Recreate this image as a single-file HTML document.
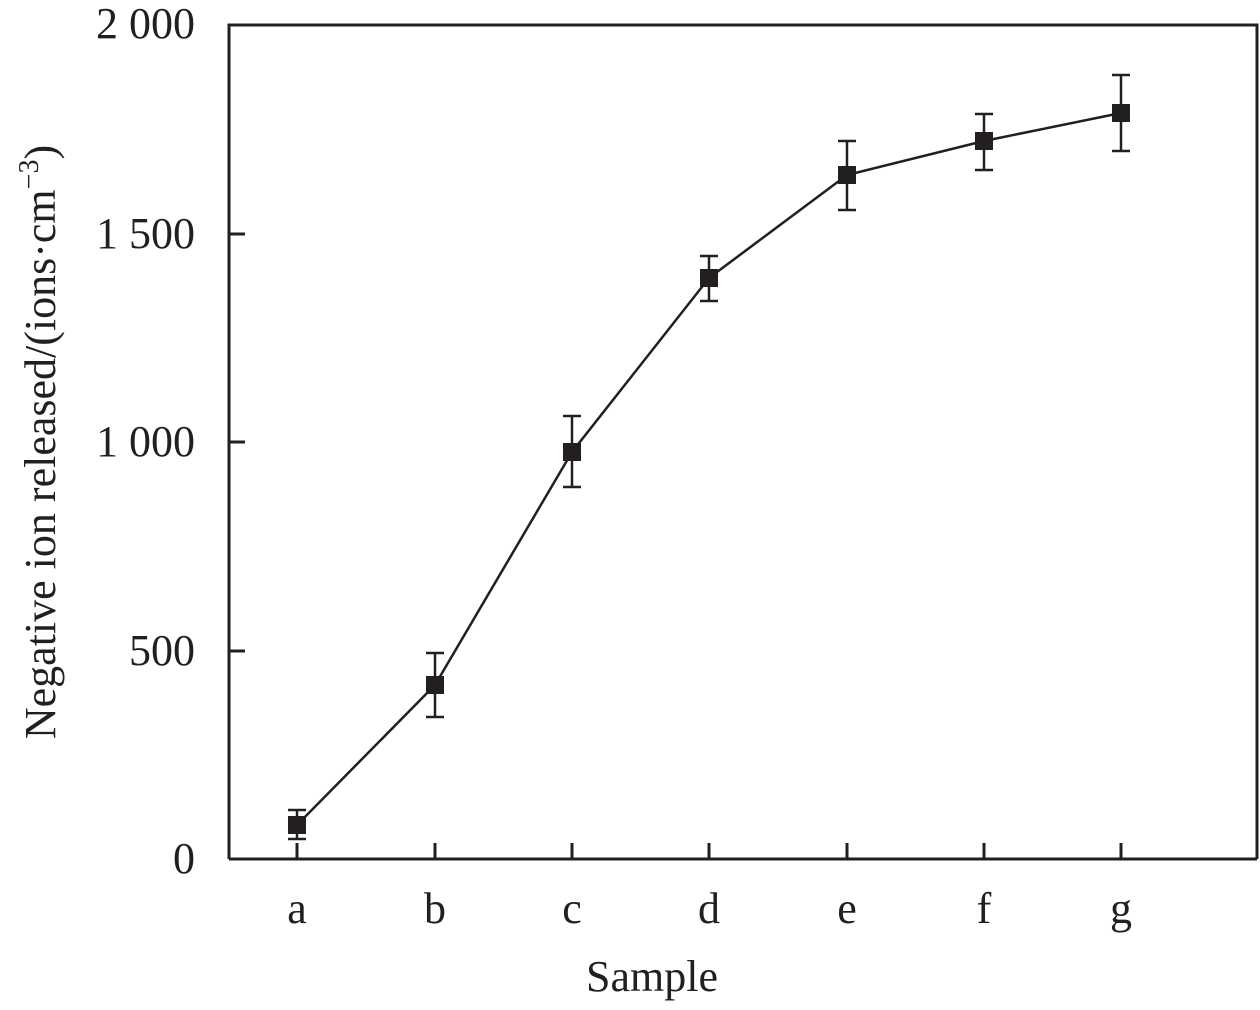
<!DOCTYPE html>
<html><head><style>body{margin:0;background:#fff}</style></head><body>
<svg width="1260" height="1005" xmlns="http://www.w3.org/2000/svg" font-family="Liberation Serif, serif" fill="#231f20">
<g stroke="#231f20" stroke-width="3" fill="none">
<polyline points="229,859 229,25 1257,25 1257,859"/>
<line x1="229" y1="859" x2="1257" y2="859"/>
<line x1="229" y1="234" x2="245" y2="234"/>
<line x1="229" y1="442" x2="245" y2="442"/>
<line x1="229" y1="651" x2="245" y2="651"/>
<line x1="229" y1="859" x2="245" y2="859"/>
<line x1="297" y1="843" x2="297" y2="859"/>
<line x1="435" y1="843" x2="435" y2="859"/>
<line x1="572" y1="843" x2="572" y2="859"/>
<line x1="709" y1="843" x2="709" y2="859"/>
<line x1="847" y1="843" x2="847" y2="859"/>
<line x1="984" y1="843" x2="984" y2="859"/>
<line x1="1121" y1="843" x2="1121" y2="859"/>
<polyline stroke-width="2.5" points="297,825 435,685 572,452 709,278 847,175 984,141 1121,113"/>
<g stroke-width="2.5">
<path d="M297,810V839M288,810H306M288,839H306"/>
<path d="M435,653V717M426,653H444M426,717H444"/>
<path d="M572,416V487M563,416H581M563,487H581"/>
<path d="M709,256V301M700,256H718M700,301H718"/>
<path d="M847,141V210M838,141H856M838,210H856"/>
<path d="M984,114V170M975,114H993M975,170H993"/>
<path d="M1121,75V151M1112,75H1130M1112,151H1130"/>
</g>
</g>
<g fill="#231f20">
<rect x="288" y="816" width="18" height="18"/>
<rect x="426" y="676" width="18" height="18"/>
<rect x="563" y="443" width="18" height="18"/>
<rect x="700" y="269" width="18" height="18"/>
<rect x="838" y="166" width="18" height="18"/>
<rect x="975" y="132" width="18" height="18"/>
<rect x="1112" y="104" width="18" height="18"/>
</g>
<g font-size="44" text-anchor="end">
<text x="195" y="38">2 000</text>
<text x="195" y="248">1 500</text>
<text x="195" y="456">1 000</text>
<text x="195" y="665">500</text>
<text x="195" y="873">0</text>
</g>
<g font-size="44" text-anchor="middle">
<text x="297" y="923">a</text><text x="435" y="923">b</text><text x="572" y="923">c</text>
<text x="709" y="923">d</text><text x="847" y="923">e</text><text x="984" y="923">f</text>
<text x="1121" y="923">g</text>
<text x="652" y="991">Sample</text>
<text transform="translate(55,442) rotate(-90)">Negative ion released/(ions·cm<tspan font-size="28" dy="-17">−3</tspan><tspan dy="17">)</tspan></text>
</g>
</svg>
</body></html>
